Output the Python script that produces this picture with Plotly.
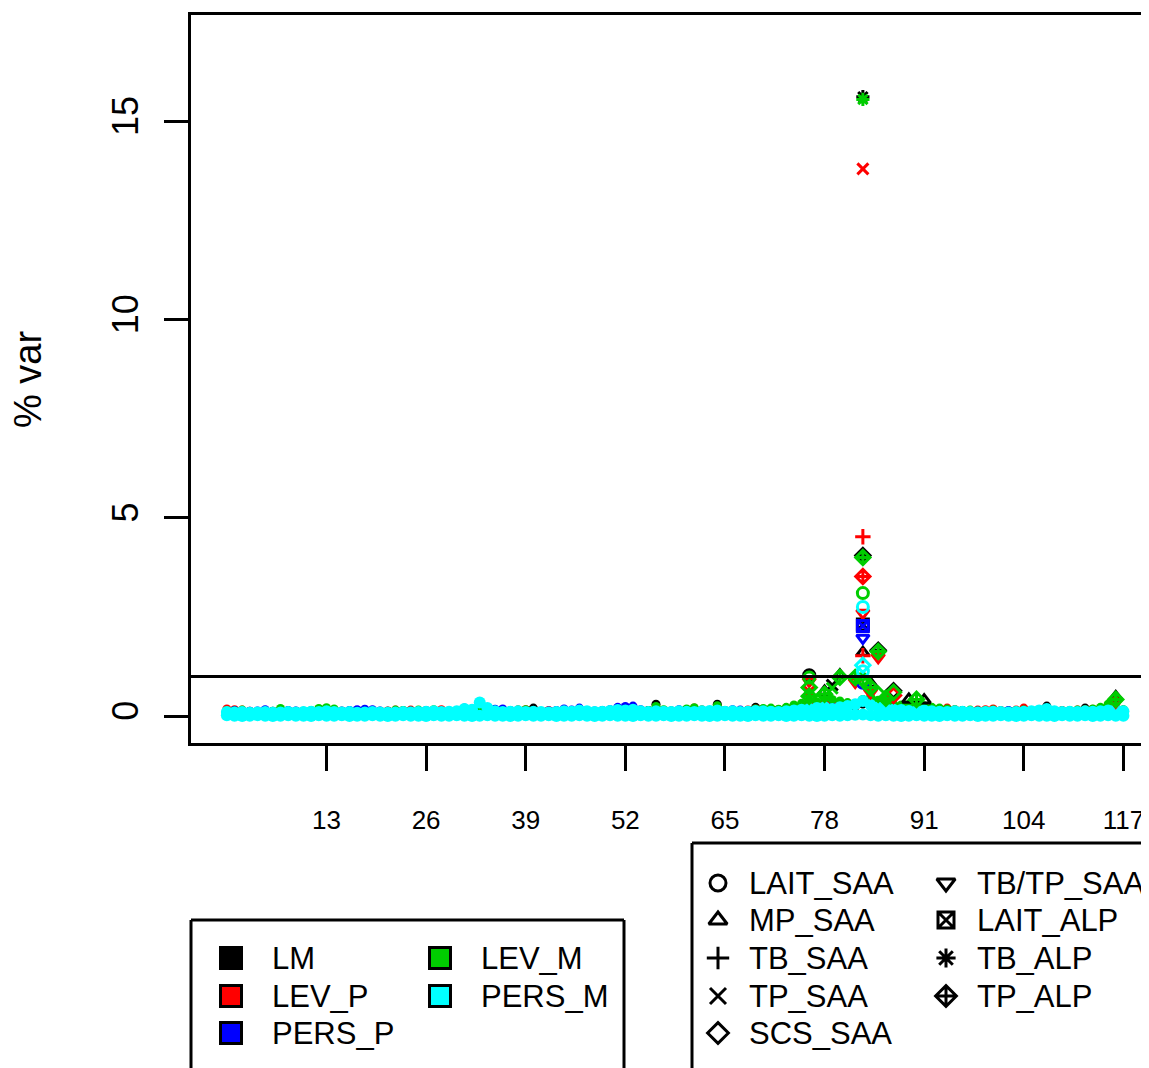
import plotly.graph_objects as go

# ---------------- data ----------------
positions = list(range(118))

effects = ["LM", "LEV_P", "PERS_P", "LEV_M", "PERS_M"]
effect_colors = ["#000000", "#FF0000", "#0000FF", "#00CD00", "#00FFFF"]

traits = ["LAIT_SAA", "MP_SAA", "TB_SAA", "TP_SAA", "SCS_SAA",
          "TB/TP_SAA", "LAIT_ALP", "TB_ALP", "TP_ALP"]
trait_symbols = ["circle-open", "triangle-up-open", "cross-thin-open", "x-thin-open",
                 "diamond-open", "triangle-down-open", "square-x-open",
                 "asterisk-open", "diamond-cross-open"]

x_ticks = [13, 26, 39, 52, 65, 78, 91, 104, 117]
y_ticks = [0, 5, 10, 15]
threshold = 1

# baseline band (% var) per effect along the positions
lm_band = [0.06,0.05,0.07,0.06,0.05,0.06,0.07,0.05,0.06,0.07,
           0.06,0.07,0.08,0.09,0.07,0.06,0.05,0.06,0.07,0.06,
           0.05,0.06,0.07,0.06,0.08,0.07,0.06,0.07,0.08,0.06,
           0.07,0.08,0.09,0.12,0.08,0.07,0.06,0.07,0.09,0.10,
           0.20,0.08,0.07,0.06,0.08,0.07,0.09,0.08,0.07,0.08,
           0.09,0.10,0.11,0.12,0.09,0.10,0.30,0.12,0.09,0.10,
           0.12,0.14,0.10,0.12,0.30,0.12,0.10,0.12,0.14,0.22,
           0.14,0.15,0.13,0.16,0.18,0.22,0.26,0.28,0.30,0.26,
           0.30,0.28,0.24,0.30,0.34,0.28,0.26,0.24,0.22,0.24,
           0.26,0.22,0.18,0.14,0.12,0.10,0.11,0.10,0.09,0.10,
           0.11,0.10,0.09,0.12,0.13,0.12,0.14,0.25,0.12,0.10,
           0.11,0.12,0.20,0.12,0.13,0.16,0.18,0.12]
lev_p_band = [0.18,0.16,0.15,0.12,0.10,0.11,0.10,0.12,0.11,0.12,
              0.11,0.12,0.13,0.15,0.13,0.11,0.10,0.11,0.10,0.11,
              0.12,0.13,0.15,0.14,0.15,0.14,0.12,0.13,0.16,0.12,
              0.11,0.13,0.12,0.14,0.12,0.11,0.12,0.11,0.15,0.16,
              0.12,0.11,0.14,0.10,0.11,0.12,0.13,0.12,0.11,0.12,
              0.13,0.12,0.14,0.13,0.12,0.14,0.18,0.13,0.12,0.14,
              0.16,0.20,0.15,0.14,0.22,0.13,0.12,0.14,0.15,0.18,
              0.17,0.18,0.16,0.20,0.24,0.28,0.36,0.32,0.36,0.34,
              0.32,0.30,0.28,0.36,0.40,0.34,0.30,0.26,0.24,0.26,
              0.24,0.22,0.20,0.18,0.20,0.16,0.14,0.13,0.15,0.16,
              0.18,0.14,0.13,0.15,0.20,0.14,0.13,0.15,0.12,0.14,
              0.13,0.15,0.16,0.17,0.16,0.22,0.30,0.15]
pers_p_band = [0.12,0.14,0.13,0.12,0.13,0.16,0.12,0.13,0.14,0.13,
               0.12,0.13,0.14,0.13,0.12,0.13,0.14,0.16,0.17,0.16,
               0.13,0.12,0.13,0.12,0.13,0.12,0.14,0.13,0.12,0.13,
               0.14,0.20,0.18,0.22,0.18,0.17,0.18,0.14,0.13,0.14,
               0.13,0.12,0.13,0.14,0.18,0.15,0.20,0.14,0.13,0.14,
               0.16,0.22,0.24,0.25,0.16,0.14,0.15,0.14,0.13,0.16,
               0.14,0.13,0.14,0.13,0.15,0.14,0.16,0.15,0.14,0.15,
               0.14,0.13,0.14,0.15,0.16,0.18,0.20,0.22,0.24,0.22,
               0.24,0.26,0.30,0.36,0.30,0.24,0.20,0.18,0.16,0.15,
               0.14,0.15,0.14,0.13,0.12,0.13,0.14,0.12,0.13,0.12,
               0.13,0.12,0.14,0.13,0.12,0.14,0.15,0.18,0.14,0.12,
               0.13,0.12,0.14,0.13,0.14,0.15,0.17,0.13]
lev_m_band = [0.14,0.13,0.15,0.10,0.09,0.11,0.12,0.19,0.12,0.11,
              0.12,0.14,0.19,0.21,0.18,0.12,0.10,0.09,0.11,0.10,
              0.11,0.12,0.15,0.14,0.13,0.15,0.12,0.16,0.11,0.10,
              0.12,0.13,0.12,0.14,0.12,0.11,0.10,0.12,0.15,0.16,
              0.13,0.11,0.10,0.12,0.11,0.12,0.13,0.12,0.11,0.12,
              0.12,0.13,0.12,0.15,0.12,0.14,0.24,0.16,0.13,0.14,
              0.18,0.21,0.15,0.14,0.26,0.14,0.12,0.13,0.14,0.18,
              0.19,0.20,0.17,0.22,0.28,0.32,0.40,0.36,0.45,0.42,
              0.38,0.34,0.30,0.42,0.48,0.40,0.36,0.30,0.28,0.30,
              0.32,0.26,0.22,0.20,0.18,0.16,0.14,0.15,0.13,0.14,
              0.15,0.13,0.12,0.14,0.15,0.13,0.14,0.16,0.12,0.13,
              0.14,0.15,0.16,0.18,0.22,0.30,0.40,0.16]
pers_m_band = [0.10,0.09,0.10,0.08,0.09,0.10,0.08,0.09,0.10,0.09,
               0.10,0.11,0.10,0.12,0.10,0.09,0.10,0.08,0.09,0.10,
               0.09,0.08,0.09,0.10,0.09,0.10,0.11,0.12,0.10,0.11,
               0.12,0.18,0.16,0.34,0.20,0.12,0.10,0.11,0.12,0.10,
               0.11,0.10,0.09,0.10,0.12,0.11,0.14,0.12,0.10,0.11,
               0.13,0.15,0.14,0.16,0.12,0.10,0.12,0.11,0.10,0.12,
               0.11,0.10,0.12,0.13,0.14,0.11,0.12,0.10,0.11,0.13,
               0.12,0.11,0.10,0.12,0.14,0.16,0.18,0.20,0.22,0.18,
               0.22,0.25,0.30,0.38,0.28,0.22,0.18,0.16,0.15,0.13,
               0.12,0.14,0.12,0.11,0.10,0.12,0.11,0.10,0.09,0.10,
               0.11,0.10,0.09,0.10,0.11,0.12,0.14,0.18,0.12,0.10,
               0.11,0.10,0.12,0.11,0.12,0.14,0.16,0.12]
pers_m_floor = [0.02,0.01,0.00,0.01,0.02,0.01,0.00,0.01,0.02,0.01,
                0.01,0.00,0.02,0.01,0.01,0.02,0.00,0.01,0.01,0.02,
                0.01,0.00,0.01,0.02,0.01,0.01,0.00,0.02,0.01,0.01,
                0.02,0.01,0.00,0.01,0.02,0.01,0.01,0.00,0.01,0.02,
                0.01,0.01,0.02,0.00,0.01,0.01,0.02,0.01,0.00,0.01,
                0.02,0.01,0.01,0.00,0.02,0.01,0.01,0.02,0.00,0.01,
                0.01,0.02,0.01,0.00,0.01,0.02,0.01,0.01,0.00,0.02,
                0.01,0.01,0.02,0.00,0.01,0.02,0.01,0.00,0.01,0.02,
                0.01,0.02,0.03,0.04,0.02,0.01,0.02,0.01,0.00,0.01,
                0.02,0.01,0.01,0.00,0.02,0.01,0.01,0.02,0.00,0.01,
                0.01,0.02,0.01,0.00,0.01,0.02,0.01,0.01,0.00,0.02,
                0.01,0.01,0.02,0.00,0.01,0.02,0.01,0.01]

# notable points (peak region and other local maxima)
peak_x = [83, 83, 83, 83, 83, 83, 83, 83, 83, 83, 83, 83, 83, 83, 83, 83, 83, 83, 83,
          85, 85, 85,
          76, 76, 76, 76, 76, 76, 80, 80, 79, 79, 78, 78, 82, 82,
          84, 84, 84, 85, 86, 87, 87, 87, 89, 90, 91, 116, 116, 116]
peak_y = [15.62, 15.55, 13.80, 4.52, 4.05, 4.00, 3.52, 3.10, 2.75, 2.60, 2.31, 2.27,
          1.97, 1.60, 1.52, 1.28, 1.13, 0.93, 0.84,
          1.66, 1.63, 1.48,
          1.03, 0.97, 0.88, 0.72, 0.62, 0.50, 1.03, 0.98, 0.78, 0.70, 0.62, 0.55, 0.97, 0.86,
          0.82, 0.72, 0.60, 0.55, 0.45, 0.64, 0.60, 0.52, 0.42, 0.42, 0.40, 0.48, 0.42, 0.36]
peak_effect = ["LM", "LEV_M", "LEV_P", "LEV_P", "LM", "LEV_M", "LEV_P", "LEV_M", "PERS_M",
               "LEV_P", "LM", "PERS_P", "PERS_P", "LM", "LEV_P", "PERS_M", "PERS_M",
               "LEV_M", "PERS_P",
               "LM", "LEV_M", "LEV_P",
               "LM", "LEV_M", "LEV_P", "LEV_M", "LEV_P", "LEV_M", "LM", "LEV_M", "LM",
               "LEV_M", "LM", "LEV_M", "LEV_M", "LEV_P",
               "LM", "LEV_M", "LEV_P", "LEV_M", "LEV_M", "LM", "LEV_M", "LEV_P",
               "LM", "LEV_M", "LM", "LM", "LEV_M", "LEV_P"]
peak_trait = ["TB_ALP", "TB_ALP", "TP_SAA", "TB_SAA", "TP_ALP", "TP_ALP", "TP_ALP",
              "LAIT_SAA", "LAIT_SAA", "TB/TP_SAA", "LAIT_ALP", "LAIT_ALP", "TB/TP_SAA",
              "MP_SAA", "TB_SAA", "SCS_SAA", "LAIT_SAA", "TP_ALP", "LAIT_SAA",
              "TP_ALP", "TP_ALP", "TB/TP_SAA",
              "LAIT_SAA", "LAIT_SAA", "TB/TP_SAA", "SCS_SAA", "TP_SAA", "TP_ALP",
              "MP_SAA", "TP_ALP", "TP_SAA", "TP_SAA", "MP_SAA", "TP_ALP", "TP_ALP",
              "TB/TP_SAA",
              "MP_SAA", "TP_ALP", "TB/TP_SAA", "SCS_SAA", "TP_ALP", "SCS_SAA",
              "SCS_SAA", "SCS_SAA", "MP_SAA", "TP_ALP", "MP_SAA", "MP_SAA", "TP_ALP",
              "TB/TP_SAA"]

# ---------------- figure ----------------
# The page places the figure 8px from the top-left corner (body margin),
# so the figure is 8px smaller and all pixel positions are shifted by 8.
OFF = 8
W, H = 1149 - OFF, 1068 - OFF
PL, PT, PB = 191 - OFF, 15 - OFF, 743 - OFF   # plot box edges (right edge cropped)

def px(xs):
    return (xs - OFF) / W

def py(ys):
    return 1 - (ys - OFF) / H

fig = go.Figure()

band_values = {"LM": lm_band, "LEV_P": lev_p_band, "PERS_P": pers_p_band,
               "LEV_M": lev_m_band, "PERS_M": pers_m_band}
for eff, col in zip(effects, effect_colors):
    size = 12 if eff == "PERS_M" else 9
    fig.add_trace(go.Scatter(x=positions, y=band_values[eff], mode="markers",
                             marker=dict(symbol="circle", size=size, color=col,
                                         line=dict(width=0)),
                             showlegend=False, hoverinfo="skip"))
fig.add_trace(go.Scatter(x=positions, y=pers_m_floor, mode="markers",
                         marker=dict(symbol="circle", size=12, color=effect_colors[4],
                                     line=dict(width=0)),
                         showlegend=False, hoverinfo="skip"))

sym_of = dict(zip(traits, trait_symbols))
for eff, col in zip(effects, effect_colors):
    idx = [i for i, e in enumerate(peak_effect) if e == eff]
    fig.add_trace(go.Scatter(
        x=[peak_x[i] for i in idx], y=[peak_y[i] for i in idx], mode="markers",
        marker=dict(symbol=[sym_of[peak_trait[i]] for i in idx], size=11,
                    color=col, line=dict(width=3, color=col)),
        showlegend=False, hoverinfo="skip"))

# ---- legends drawn on an overlay pixel-coordinate axis ----
leg1_rows = [958, 996, 1033]
leg1_pos = [(231, leg1_rows[0]), (231, leg1_rows[1]), (231, leg1_rows[2]),
            (440, leg1_rows[0]), (440, leg1_rows[1])]
for (sx, sy), col in zip(leg1_pos, effect_colors):
    fig.add_trace(go.Scatter(x=[sx - OFF], y=[sy - OFF], xaxis="x2", yaxis="y2",
                             mode="markers",
                             marker=dict(symbol="square", size=21, color=col,
                                         line=dict(width=3, color="black")),
                             showlegend=False, hoverinfo="skip", cliponaxis=False))

leg2_rows = [883, 920, 958, 996, 1033]
leg2_pos = [(718, r) for r in leg2_rows] + [(946, r) for r in leg2_rows[:4]]
for (sx, sy), sym in zip(leg2_pos, trait_symbols):
    fig.add_trace(go.Scatter(x=[sx - OFF], y=[sy - OFF], xaxis="x2", yaxis="y2",
                             mode="markers",
                             marker=dict(symbol=sym, size=16, color="black",
                                         line=dict(width=3, color="black")),
                             showlegend=False, hoverinfo="skip", cliponaxis=False))

annotations = []
LEG_FONT = dict(family="Liberation Sans, Arial, sans-serif", size=31, color="black")
for (sx, sy), name in zip(leg1_pos, effects):
    annotations.append(dict(x=px(sx + 39), y=py(sy), xref="paper", yref="paper",
                            text=name, showarrow=False, xanchor="left",
                            yanchor="middle", font=LEG_FONT))
for (sx, sy), name in zip(leg2_pos, traits):
    annotations.append(dict(x=px(sx + 29), y=py(sy), xref="paper", yref="paper",
                            text=name, showarrow=False, xanchor="left",
                            yanchor="middle", font=LEG_FONT))
annotations.append(dict(x=px(28), y=py(380), xref="paper", yref="paper",
                        text="% var", textangle=-90, showarrow=False,
                        xanchor="center", yanchor="middle",
                        font=dict(family="Liberation Sans, Arial, sans-serif",
                                  size=38, color="black")))

LW = 3
shapes = [
    # threshold line
    dict(type="line", xref="x domain", x0=0, x1=1, yref="y", y0=threshold, y1=threshold,
         line=dict(color="black", width=LW)),
    # legend 1 box (bottom cropped)
    dict(type="line", xref="paper", yref="paper", x0=px(191), x1=px(624),
         y0=py(920), y1=py(920), line=dict(color="black", width=LW)),
    dict(type="line", xref="paper", yref="paper", x0=px(191), x1=px(191),
         y0=py(920), y1=-0.01, line=dict(color="black", width=LW)),
    dict(type="line", xref="paper", yref="paper", x0=px(624), x1=px(624),
         y0=py(920), y1=-0.01, line=dict(color="black", width=LW)),
    # legend 2 box (right and bottom cropped)
    dict(type="line", xref="paper", yref="paper", x0=px(692), x1=1.01,
         y0=py(843), y1=py(843), line=dict(color="black", width=LW)),
    dict(type="line", xref="paper", yref="paper", x0=px(692), x1=px(692),
         y0=py(843), y1=-0.01, line=dict(color="black", width=LW)),
]

fig.update_layout(
    width=W, height=H,
    margin=dict(l=0, r=0, t=0, b=0),
    paper_bgcolor="white", plot_bgcolor="rgba(0,0,0,0)",
    showlegend=False,
    annotations=annotations, shapes=shapes,
    font=dict(family="Liberation Sans, Arial, sans-serif", color="black"),
    xaxis=dict(domain=[PL / W, 1], range=[-4.68, 120.34],
               tickmode="array",
               tickvals=x_ticks, ticktext=[str(v) for v in x_ticks],
               ticks="outside", ticklen=25, tickwidth=LW, tickcolor="black",
               showline=True, linecolor="black", linewidth=LW, mirror=True,
               showgrid=False, zeroline=False, ticklabelstandoff=27,
               tickfont=dict(size=26), anchor="y"),
    yaxis=dict(domain=[1 - PB / H, 1 - PT / H], range=[-0.68, 17.68], tickmode="array",
               tickvals=y_ticks, ticktext=[str(v) for v in y_ticks],
               ticks="outside", ticklen=24, tickwidth=LW, tickcolor="black",
               showline=True, linecolor="black", linewidth=LW, mirror=False,
               showgrid=False, zeroline=False, tickangle=-90, ticklabelstandoff=12,
               tickfont=dict(size=36), anchor="x"),
    xaxis2=dict(domain=[0, 1], range=[0, W], visible=False, anchor="y2"),
    yaxis2=dict(domain=[0, 1], range=[H, 0], visible=False, anchor="x2"),
)

fig.write_html("out.html")
